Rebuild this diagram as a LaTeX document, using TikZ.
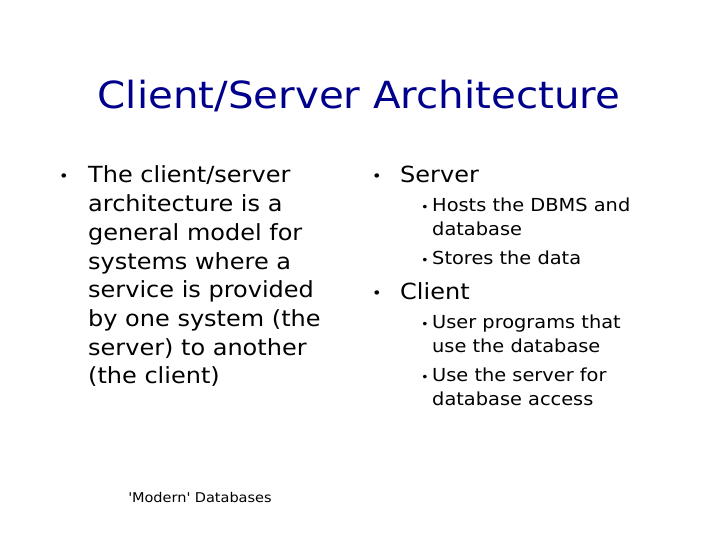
\documentclass[tikz,border=0pt]{standalone}
\usepackage{fontspec}
\setmainfont{DejaVu Sans}[FakeStretch=1.08]
\begin{document}
\begin{tikzpicture}[x=1bp,y=-1bp,
  big/.style={anchor=base west,inner sep=0pt,font=\fontsize{22.3}{26}\selectfont},
  small/.style={anchor=base west,inner sep=0pt,font=\fontsize{18}{21}\selectfont},
  bul/.style={anchor=base west,inner sep=0pt,font=\fontsize{15}{18}\selectfont},
  sbul/.style={anchor=base west,inner sep=0pt,font=\fontsize{12}{14}\selectfont},
  title/.style={anchor=base,inner sep=0pt,font=\fontsize{37.5}{44}\selectfont,text=blue!55!black}]
\useasboundingbox[fill=white] (0,0) rectangle (720,540);
\node[title] (t) at (359,109) {Client/Server Architecture};
% left column
\node[bul] (lb) at (59,182) {•};
\foreach \t [count=\i] in {The client/server,architecture is a,general model for,systems where a,service is provided,by one system (the,server) to another,(the client)}
  \node[big] (l\i) at (88,{183+(\i-1)*28.7}) {\t};
% right column
\node[bul] (sb) at (372,182) {•};
\node[big] (s) at (400,183) {Server};
\node[sbul] (s1b) at (421,212) {•};
\node[small] (s1) at (432,212) {Hosts the DBMS and};
\node[small] (s1c) at (432,236) {database};
\node[sbul] (s2b) at (421,265) {•};
\node[small] (s2) at (432,265) {Stores the data};
\node[bul] (cb) at (372,298) {•};
\node[big] (c) at (400,299) {Client};
\node[sbul] (c1b) at (421,328) {•};
\node[small] (c1) at (432,328) {User programs that};
\node[small] (c1c) at (432,352) {use the database};
\node[sbul] (c2b) at (421,381) {•};
\node[small] (c2) at (432,381) {Use the server for};
\node[small] (c2c) at (432,405) {database access};
\node[anchor=base,inner sep=0pt,font=\fontsize{13.5}{16}\selectfont] (f) at (200,502) {\textquotesingle Modern\textquotesingle{} Databases};
\end{tikzpicture}
\end{document}
